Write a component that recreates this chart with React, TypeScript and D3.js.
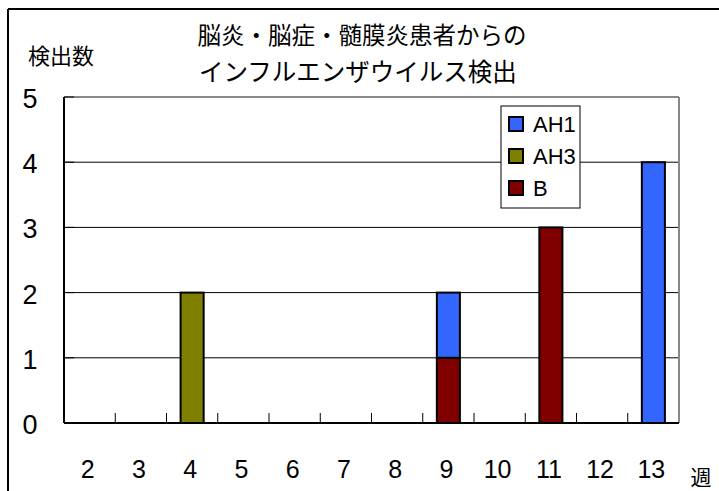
import * as d3 from 'd3'

const weeks = ['2', '3', '4', '5', '6', '7', '8', '9', '10', '11', '12', '13']
const seriesNames = ['AH1', 'AH3', 'B']
const ah1 = [0, 0, 0, 0, 0, 0, 0, 1, 0, 0, 0, 4]
const ah3 = [0, 0, 2, 0, 0, 0, 0, 0, 0, 0, 0, 0]
const b = [0, 0, 0, 0, 0, 0, 0, 1, 0, 3, 0, 0]
const yTicks = [0, 1, 2, 3, 4, 5]
const titleLines = ['脳炎・脳症・髄膜炎患者からの', 'インフルエンザウイルス検出']

const colors: Record<string, string> = { AH1: '#3366ff', AH3: '#808000', B: '#800000' }

const W = 719
const H = 491
const margin = { top: 97, right: 40, bottom: 68, left: 64 }

const jpFont = '"Noto Sans CJK JP", sans-serif'
const numFont = '"Liberation Sans", Arial, sans-serif'

export default function App() {
  const rows = weeks.map((w, i) => ({ week: w, AH1: ah1[i], AH3: ah3[i], B: b[i] }))
  // bottom to top: B, AH3, AH1
  const stack = d3.stack<any>().keys(['B', 'AH3', 'AH1'])(rows)

  const x = d3
    .scaleBand()
    .domain(weeks)
    .range([margin.left, W - margin.right])
    .paddingInner(0.55)
    .paddingOuter(0.275)

  const y = d3
    .scaleLinear()
    .domain([0, 5])
    .range([H - margin.bottom, margin.top])

  const step = x.step()
  const bounds = d3.range(weeks.length + 1).map((i) => margin.left + i * step)

  return (
    <div style={{ position: 'absolute', left: 0, top: 0 }}>
      <svg width={W} height={H} style={{ display: 'block', background: '#fff' }}>
        {/* outer frame */}
        <line x1={8} x2={8} y1={9} y2={H} stroke="#000" strokeWidth={2} />
        <line x1={8} x2={W} y1={9} y2={9} stroke="#000" strokeWidth={2} />

        {/* title */}
        <text x={362} y={44} textAnchor="middle" fontFamily={jpFont} fontSize={23.5} fill="#000">
          {titleLines[0]}
        </text>
        <text x={358} y={81} textAnchor="middle" fontFamily={jpFont} fontSize={24.5} fill="#000">
          {titleLines[1]}
        </text>
        <text x={61} y={64} textAnchor="middle" fontFamily={jpFont} fontSize={22} fill="#000">
          検出数
        </text>
        <text x={701} y={485} textAnchor="middle" fontFamily={jpFont} fontSize={21} fill="#000">
          週
        </text>

        {/* gridlines */}
        {yTicks
          .filter((t) => t > 0 && t < 5)
          .map((t) => (
            <line
              key={t}
              x1={margin.left}
              x2={W - margin.right}
              y1={y(t)}
              y2={y(t)}
              stroke="#000"
              strokeWidth={1}
            />
          ))}

        {/* plot border top/right */}
        <line x1={margin.left} x2={W - margin.right} y1={y(5)} y2={y(5)} stroke="#888" strokeWidth={2} />
        <line
          x1={W - margin.right}
          x2={W - margin.right}
          y1={y(5)}
          y2={y(0)}
          stroke="#888"
          strokeWidth={2}
        />

        {/* bars */}
        {stack.map((layer) => (
          <g key={layer.key}>
            {layer.map((d, i) =>
              d[1] - d[0] > 0 ? (
                <rect
                  key={i}
                  x={x(weeks[i])}
                  y={y(d[1])}
                  width={x.bandwidth()}
                  height={y(d[0]) - y(d[1])}
                  fill={colors[layer.key]}
                  stroke="#000"
                  strokeWidth={2}
                />
              ) : null,
            )}
          </g>
        ))}

        {/* axes */}
        <line x1={margin.left} x2={margin.left} y1={y(5)} y2={y(0)} stroke="#000" strokeWidth={2} />
        <line x1={margin.left} x2={W - margin.right} y1={y(0)} y2={y(0)} stroke="#000" strokeWidth={2} />
        {yTicks.map((t) => (
          <g key={t}>
            <line x1={margin.left} x2={margin.left + 10} y1={y(t)} y2={y(t)} stroke="#000" strokeWidth={1} />
            <text
              x={30}
              y={y(t) + 11}
              textAnchor="middle"
              fontFamily={numFont}
              fontSize={27}
              fill="#000"
            >
              {t}
            </text>
          </g>
        ))}
        {bounds.slice(1, -1).map((bx, i) => (
          <line key={i} x1={bx} x2={bx} y1={y(0)} y2={y(0) - 10} stroke="#000" strokeWidth={1} />
        ))}
        {weeks.map((w) => (
          <text
            key={w}
            x={(x(w) ?? 0) + x.bandwidth() / 2 - 2}
            y={478}
            textAnchor="middle"
            fontFamily={numFont}
            fontSize={25}
            fill="#000"
          >
            {w}
          </text>
        ))}

        {/* legend */}
        <rect x={501} y={106} width={79} height={102} fill="#fff" stroke="#000" strokeWidth={1} />
        {seriesNames.map((s, i) => (
          <g key={s} transform={`translate(509, ${117 + i * 32})`}>
            <rect width={14} height={14} fill={colors[s]} stroke="#000" strokeWidth={2} />
            <text x={24} y={15} fontFamily={numFont} fontSize={22} fill="#000">
              {s}
            </text>
          </g>
        ))}
      </svg>
    </div>
  )
}
